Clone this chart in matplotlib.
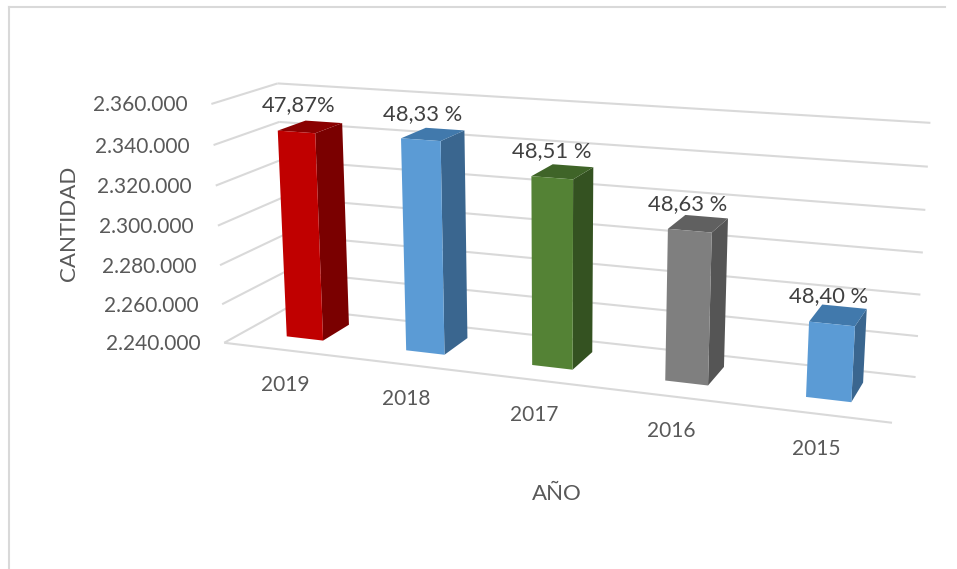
import numpy as np
import matplotlib
matplotlib.use("Agg")
import matplotlib.pyplot as plt
from matplotlib.patches import Polygon
from matplotlib.lines import Line2D

# ---- data ----
years = ["2019", "2018", "2017", "2016", "2015"]
values = [2345000, 2345500, 2332000, 2312500, 2275500]
shares = ["47,87%", "48,33 %", "48,51 %", "48,63 %", "48,40 %"]
value_ticks = [2240000, 2260000, 2280000, 2300000, 2320000, 2340000, 2360000]
tick_labels = ["2.240.000", "2.260.000", "2.280.000", "2.300.000", "2.320.000", "2.340.000", "2.360.000"]

# ---- styles ----
front_cols = ["#C00000", "#5B9BD5", "#548235", "#7F7F7F", "#5B9BD5"]
side_cols = ["#7A0000", "#3A668F", "#345221", "#555555", "#3A668F"]
top_cols = ["#8A0000", "#4179AC", "#3F6428", "#606060", "#4179AC"]
GRID = "#D9D9D9"
TEXT = "#595959"
plt.rcParams["font.family"] = ["Lato", "DejaVu Sans"]

# ---- perspective camera: (category, value, depth) -> axes pixels ----
vmin, vmax = value_ticks[0], value_ticks[-1]
ncat = len(years)
anchors = [
    ((0, 0, 0), (225, 342.5), 2), ((0, 1, 0), (211, 104), 3),
    ((0, 0, 1), (284, 309), 1), ((0, 1, 1), (281, 83), 1),
    ((1, 0, 0), (892, 423), 2), ((1, 0, 1), (916, 376), 1), ((1, 1, 1), (930, 123), 1),
]
A, b = [], []
for (X, Y, Z), (u, v), w in anchors:
    A.append([w * c for c in [X, Y, Z, 1, 0, 0, 0, 0, -u * X, -u * Y, -u * Z]]); b.append(w * u)
    A.append([w * c for c in [0, 0, 0, 0, X, Y, Z, 1, -v * X, -v * Y, -v * Z]]); b.append(w * v)
h = np.linalg.lstsq(np.array(A, float), np.array(b, float), rcond=None)[0]
H = np.append(h, 1).reshape(3, 4)


def proj(cat, val, depth):
    p = H @ np.array([cat / ncat, (val - vmin) / (vmax - vmin), depth, 1.0])
    return p[0] / p[2], p[1] / p[2]


fig = plt.figure(figsize=(9.57, 5.69), dpi=100, facecolor="white")
ax = fig.add_axes([0, 0, 1, 1])
ax.set_xlim(0, 957)
ax.set_ylim(569, 0)
ax.axis("off")

# chart frame
fig.add_artist(Line2D([9 / 957, 9 / 957], [0, 1 - 7 / 569], color=GRID, lw=1.5))
fig.add_artist(Line2D([9 / 957, 945 / 957], [1 - 7 / 569, 1 - 7 / 569], color=GRID, lw=1.5))


def seg(a, b):
    pa, pb = proj(*a), proj(*b)
    ax.plot([pa[0], pb[0]], [pa[1], pb[1]], color=GRID, lw=1.5, solid_capstyle="butt", zorder=1)


# walls and floor
for t, lab in zip(value_ticks, tick_labels):
    seg((0, t, 0), (0, t, 1))
    seg((0, t, 1), (ncat, t, 1))
    x, y = proj(0, t, 0)
    ax.text(x - 24, y + 1.5, lab, ha="right", va="center", fontsize=15, color=TEXT)
seg((0, vmin, 0), (ncat, vmin, 0))

# bars
bar_w = 0.31
z0, z1 = 0.31, 0.75
year_nudges = [0, -1, -2, -2, -2]
label_nudges = [(-9, 0), (-8, 2), (-8, 2), (-8, 3), (-7, 3)]
for i, (val, yr, sh) in enumerate(zip(values, years, shares)):
    c0, c1 = i + 0.52 - bar_w / 2, i + 0.52 + bar_w / 2
    f = [proj(c0, vmin, z0), proj(c1, vmin, z0), proj(c1, val, z0), proj(c0, val, z0)]
    s = [proj(c1, vmin, z0), proj(c1, vmin, z1), proj(c1, val, z1), proj(c1, val, z0)]
    t = [proj(c0, val, z0), proj(c1, val, z0), proj(c1, val, z1), proj(c0, val, z1)]
    ax.add_patch(Polygon(s, closed=True, fc=side_cols[i], ec="none", zorder=3))
    ax.add_patch(Polygon(t, closed=True, fc=top_cols[i], ec="none", zorder=3))
    ax.add_patch(Polygon(f, closed=True, fc=front_cols[i], ec="none", zorder=4))
    # year label
    x, y = proj(i + 0.5, vmin, 0)
    ax.text(x + 2 + year_nudges[i], y + 35, yr, ha="center", va="center", fontsize=15, color=TEXT)
    # share label
    x, y = proj(i + 0.5, val, (z0 + z1) / 2)
    ax.text(x + label_nudges[i][0], y - 22 + label_nudges[i][1], sh, ha="center", va="center",
            fontsize=15.8, color="#404040", zorder=5)

# axis titles
ax.text(69, 223, "CANTIDAD", rotation=90, ha="center", va="center", fontsize=16, color=TEXT)
ax.text(557, 494, "AÑO", ha="center", va="center", fontsize=16, color=TEXT)

fig.savefig("out.png", dpi=100, facecolor="white")
